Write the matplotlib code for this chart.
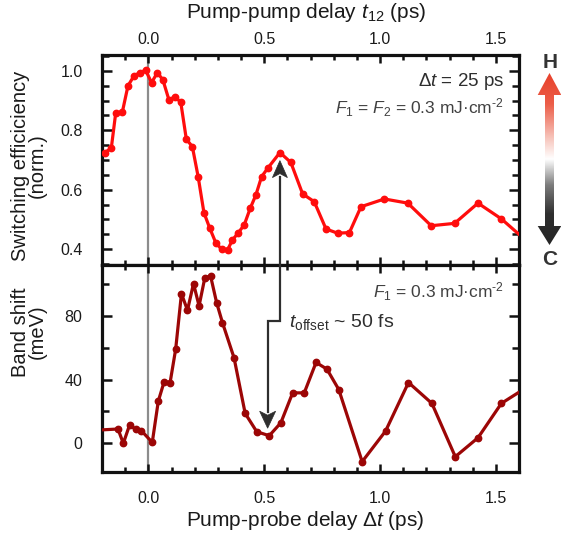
import numpy as np
import matplotlib
matplotlib.use('Agg')
import matplotlib.pyplot as plt
from matplotlib.ticker import MultipleLocator
from matplotlib.patches import Polygon
from matplotlib.lines import Line2D
from matplotlib.colors import LinearSegmentedColormap

plt.rcParams['font.family'] = ['Liberation Sans', 'DejaVu Sans']
plt.rcParams['mathtext.fontset'] = 'custom'
plt.rcParams['mathtext.rm'] = 'Liberation Sans'
plt.rcParams['mathtext.it'] = 'Liberation Sans:italic'
plt.rcParams['mathtext.bf'] = 'Liberation Sans:bold'

# ---------------- data ----------------
top_x = [-0.189, -0.160, -0.141, -0.112, -0.088, -0.062, -0.036, -0.012, 0.014, 0.039,
         0.063, 0.089, 0.114, 0.140, 0.164, 0.190, 0.215, 0.240, 0.265, 0.291,
         0.316, 0.342, 0.363, 0.389, 0.414, 0.440, 0.464, 0.489, 0.515, 0.568,
         0.615, 0.666, 0.716, 0.767, 0.817, 0.868, 0.918, 1.019, 1.120, 1.221,
         1.322, 1.423, 1.524, 1.625]
top_y = [0.725, 0.739, 0.857, 0.862, 0.949, 0.983, 0.994, 1.002, 0.960, 0.994,
         0.969, 0.902, 0.913, 0.894, 0.770, 0.745, 0.644, 0.523, 0.471, 0.422,
         0.400, 0.398, 0.431, 0.456, 0.482, 0.538, 0.582, 0.644, 0.672, 0.725,
         0.692, 0.586, 0.560, 0.468, 0.454, 0.456, 0.543, 0.569, 0.555, 0.479,
         0.487, 0.555, 0.502, 0.433]

bot_x = [-0.22, -0.131, -0.108, -0.081, -0.055, -0.030, 0.017, 0.043, 0.068, 0.094,
         0.118, 0.143, 0.169, 0.195, 0.219, 0.244, 0.269, 0.295, 0.320, 0.370,
         0.418, 0.468, 0.522, 0.572, 0.623, 0.673, 0.724, 0.771, 0.822, 0.923,
         1.024, 1.123, 1.224, 1.325, 1.423, 1.524, 1.64]
bot_y = [8.3, 9.0, 0.0, 11.5, 8.8, 7.9, 0.6, 26.5, 38.6, 38.2,
         59.1, 94.0, 83.6, 100.3, 86.3, 104.1, 104.9, 88.2, 75.8, 53.7,
         18.8, 7.3, 4.8, 12.9, 31.7, 31.7, 50.8, 46.6, 33.8, -11.5,
         7.7, 38.2, 25.1, -8.4, 3.5, 25.1, 35.8]

xticks = [0.0, 0.5, 1.0, 1.5]
top_yticks = [0.4, 0.6, 0.8, 1.0]
bot_yticks = [0, 40, 80]

# offset arrow anchor values
peak_x, peak_y = 0.568, 0.698
dip_x, dip_y = 0.515, 9.5
step_y = 76.7

# ---------------- figure ----------------
W, H = 561, 540
fig = plt.figure(figsize=(W / 100, H / 100), dpi=100)

def fx(x):
    return x / W

def fy(y):
    return 1 - y / H

ax1 = fig.add_axes([fx(102), fy(265), 417 / W, 210 / H])
ax2 = fig.add_axes([fx(102), fy(472), 417 / W, 207 / H])

TC = '#1a1a1a'
for ax in (ax1, ax2):
    for s in ax.spines.values():
        s.set_linewidth(2.3)
        s.set_color('#111111')
    ax.set_xlim(-0.2, 1.6)
    ax.set_xticks(xticks)
    ax.xaxis.set_minor_locator(MultipleLocator(0.1))
    ax.tick_params(which='both', direction='in', top=True, right=True,
                   width=1.8, colors='#111111', labelcolor=TC, labelsize=11.5)
    ax.tick_params(axis='x', which='major', length=6)
    ax.tick_params(axis='x', which='minor', length=3.5)
    ax.tick_params(axis='y', which='major', length=7, pad=14)
    ax.tick_params(axis='y', which='minor', length=5)
    ax.axvline(0, color='#8c8c8c', lw=1.6, zorder=1)

ax1.set_ylim(0.347, 1.053)
ax1.set_yticks(top_yticks)
ax1.yaxis.set_minor_locator(MultipleLocator(0.05))
ax1.set_yticklabels([f'{v:.1f}' for v in top_yticks])
ax1.set_xticklabels([f'{v:.1f}' for v in xticks])
ax1.tick_params(axis='x', labelbottom=False, labeltop=True, pad=6)

ax2.set_ylim(-18, 112)
ax2.set_yticks(bot_yticks)
ax2.yaxis.set_minor_locator(MultipleLocator(20))
ax2.set_xticklabels([f'{v:.1f}' for v in xticks])
ax2.tick_params(axis='x', labelbottom=True, labeltop=False, pad=14)

ax1.plot(top_x, top_y, '-o', color='#ff0d0d', lw=2.3, ms=4.6, zorder=3)
ax2.plot(bot_x, bot_y, '-o', color='#9c0606', lw=2.3, ms=4.6, zorder=3)

# axis labels
LS = 14.5
fig.text(fx(29), fy(166), 'Switching efficiciency\n(norm.)', rotation=90, ha='center', va='center',
         multialignment='center', linespacing=0.88, fontsize=LS, color=TC)
fig.text(fx(29), fy(332), 'Band shift\n(meV)', rotation=90, ha='center', va='center',
         multialignment='center', linespacing=0.88, fontsize=LS, color=TC)
fig.text(fx(305), fy(521), 'Pump-probe delay Δ$t$ (ps)', ha='center', va='center', fontsize=15, color=TC)
fig.text(fx(306), fy(12), 'Pump-pump delay $t_{12}$ (ps)', ha='center', va='center', fontsize=15, color=TC)

# annotations
AC = '#2e2e2e'
fig.text(fx(504), fy(81), 'Δ$t$ = 25 ps', ha='right', va='center', fontsize=13.5, color=AC)
fig.text(fx(504), fy(108), '$F_1$ = $F_2$ = 0.3 mJ·cm$^{\\text{-2}}$', ha='right', va='center', fontsize=12.5, color='#404040')
fig.text(fx(504), fy(292), '$F_1$ = 0.3 mJ·cm$^{\\text{-2}}$', ha='right', va='center', fontsize=12.5, color='#404040')
fig.text(fx(289), fy(322), '$t_{\\mathrm{offset}}$ ~ 50 fs', ha='left', va='center', fontsize=14, color=AC)

# offset arrows (data -> display)
inv = fig.transFigure.inverted()
hl, hw = 16, 7.5  # pixels
pA = ax1.transData.transform((peak_x, peak_y))
pC1 = ax2.transData.transform((peak_x, step_y))
pC2 = ax2.transData.transform((dip_x, step_y))
pB = ax2.transData.transform((dip_x, dip_y))
path_disp = np.array([[pA[0], pA[1] - hl], pC1, pC2, [pB[0], pB[1] + hl]])
path_fig = inv.transform(path_disp)
fig.add_artist(Line2D(path_fig[:, 0], path_fig[:, 1], transform=fig.transFigure,
                      color=AC, lw=1.6, zorder=5, solid_joinstyle='miter'))
headA = inv.transform(np.array([[pA[0], pA[1]], [pA[0] - hw, pA[1] - hl - 1],
                                [pA[0], pA[1] - hl + 3], [pA[0] + hw, pA[1] - hl - 1]]))
headB = inv.transform(np.array([[pB[0], pB[1]], [pB[0] - hw - 0.5, pB[1] + hl + 1],
                                [pB[0], pB[1] + hl - 3], [pB[0] + hw + 0.5, pB[1] + hl + 1]]))
for hd in (headA, headB):
    fig.add_artist(Polygon(hd, closed=True, transform=fig.transFigure,
                           facecolor=AC, edgecolor=AC, lw=0.5, zorder=6))

# gradient H/C arrow on the right
axg = fig.add_axes([fx(530), fy(255), 31 / W, 190 / H])
axg.set_xlim(530, 561)
axg.set_ylim(H - 255, H - 65)
axg.axis('off')
cmap = LinearSegmentedColormap.from_list('hc', [
    (0.0, '#262626'), (0.18, '#2f2f2f'), (0.35, '#7d7d7d'), (0.5, '#ffffff'),
    (0.62, '#f7c6bd'), (0.82, '#ec5e49'), (1.0, '#e8412b')])
cx, sw, hwid = 549.5, 4.5, 11.8
ytop, ytopb, ybotb, ybot = 73, 95, 226, 245
poly_px = [(cx, ytop), (cx + hwid, ytopb), (cx + sw, ytopb), (cx + sw, ybotb),
           (cx + hwid, ybotb), (cx, ybot), (cx - hwid, ybotb), (cx - sw, ybotb),
           (cx - sw, ytopb), (cx - hwid, ytopb)]
poly = Polygon([(x, H - y) for x, y in poly_px], closed=True, facecolor='none',
               edgecolor='none', transform=axg.transData)
axg.add_patch(poly)
grad = np.linspace(1, 0, 256)[:, None]
im = axg.imshow(grad, extent=(530, 561, H - ybot, H - ytop), origin='upper',
                aspect='auto', cmap=cmap, vmin=0, vmax=1, interpolation='bilinear')
im.set_clip_path(poly)
fig.text(fx(550), fy(62), 'H', ha='center', va='center', fontsize=15, fontweight='bold', color='#333333')
fig.text(fx(550), fy(260), 'C', ha='center', va='center', fontsize=15, fontweight='bold', color='#333333')

fig.savefig('out.png', dpi=100)
